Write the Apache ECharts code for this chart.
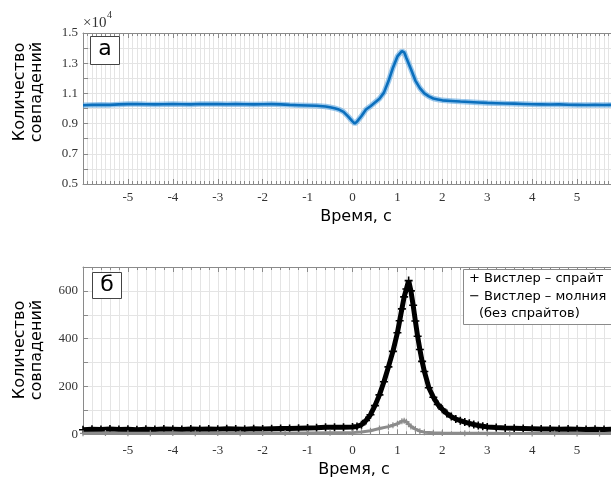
<!DOCTYPE html>
<html><head><meta charset="utf-8">
<script src="https://cdn.jsdelivr.net/npm/echarts@6/dist/echarts.min.js"></script>
<style>html,body{margin:0;padding:0;background:#fff}#c{width:611px;height:477px}</style>
</head><body><div id="c"></div>
<script>
// ---- data (top panel, units of 1e4) ----
const topTime = [-6.0,-5.8,-5.6,-5.4,-5.2,-5.0,-4.8,-4.6,-4.4,-4.2,-4.0,-3.8,-3.6,-3.4,-3.2,-3.0,-2.8,-2.6,-2.4,-2.2,-2.0,-1.8,-1.6,-1.4,-1.2,-1.0,-0.8,-0.6,-0.5,-0.4,-0.3,-0.2,-0.1,0.0,0.05,0.1,0.2,0.3,0.4,0.5,0.6,0.7,0.8,0.9,1.0,1.1,1.15,1.2,1.3,1.4,1.5,1.6,1.7,1.8,1.9,2.0,2.2,2.4,2.6,2.8,3.0,3.2,3.4,3.6,3.8,4.0,4.2,4.4,4.6,4.8,5.0,5.2,5.4,5.6,5.8,6.0];
const topCount = [1.022,1.024,1.025,1.024,1.027,1.029,1.030,1.028,1.027,1.028,1.029,1.028,1.027,1.030,1.029,1.030,1.028,1.029,1.028,1.027,1.028,1.029,1.027,1.024,1.022,1.020,1.018,1.013,1.008,1.002,0.993,0.978,0.948,0.915,0.900,0.913,0.950,0.993,1.015,1.040,1.065,1.105,1.180,1.270,1.345,1.380,1.372,1.335,1.262,1.185,1.135,1.100,1.080,1.066,1.060,1.054,1.050,1.046,1.043,1.040,1.037,1.035,1.033,1.032,1.030,1.028,1.027,1.026,1.027,1.025,1.024,1.023,1.024,1.023,1.024,1.023];

// ---- data (bottom panel) ----
const spriteTime = [-6.0,-5.8,-5.6,-5.4,-5.2,-5.0,-4.8,-4.6,-4.4,-4.2,-4.0,-3.8,-3.6,-3.4,-3.2,-3.0,-2.8,-2.6,-2.4,-2.2,-2.0,-1.8,-1.6,-1.4,-1.2,-1.0,-0.8,-0.6,-0.4,-0.2,0.0,0.1,0.2,0.3,0.4,0.5,0.6,0.7,0.8,0.9,1.0,1.05,1.1,1.15,1.2,1.25,1.3,1.35,1.4,1.45,1.5,1.55,1.6,1.7,1.8,1.9,2.0,2.1,2.2,2.3,2.4,2.5,2.6,2.7,2.8,2.9,3.0,3.2,3.4,3.6,3.8,4.0,4.2,4.4,4.6,4.8,5.0,5.2,5.4,5.6,5.8,6.0];
const spriteCount = [19,21,20,22,20,21,19,21,20,22,21,20,22,21,22,21,23,22,21,23,22,23,24,24,25,26,27,29,29,30,31,33,40,58,82,120,165,220,282,347,425,475,525,575,608,643,600,540,474,410,355,305,263,195,155,125,105,87,74,64,57,51,46,41,37,34,31,28,26,25,24,23,22,22,21,22,21,20,21,20,21,20];
const lightningTime = [-6.0,-5.5,-5.0,-4.5,-4.0,-3.5,-3.0,-2.5,-2.0,-1.5,-1.0,-0.5,0.0,0.2,0.4,0.6,0.8,0.9,1.0,1.1,1.15,1.2,1.25,1.3,1.4,1.5,1.6,1.8,2.0,2.5,3.0,3.5,4.0,4.5,5.0,5.5,6.0];
const lightningCount = [4,5,4,4,5,4,5,4,5,5,5,6,7,10,15,24,32,38,44,55,57,52,42,33,22,13,9,6,5,4,4,3,3,3,3,3,3];

const xTickLabels = ['-5','-4','-3','-2','-1','0','1','2','3','4','5'];
const yTopLabels = ['0.5','0.7','0.9','1.1','1.3','1.5'];
const yBottomLabels = ['0','200','400','600'];

const pairs = (xs, ys) => xs.map((x, i) => [x, ys[i]]);
const PLUS = 'path://M4,0H6V4H10V6H6V10H4V6H0V4H4Z';
const AX = '#8a8a8a', GRIDC = '#e4e4e4', LBL = '#333';
const tickFont = {fontFamily: 'Liberation Serif', fontSize: 13, color: LBL};
const isInt = v => Math.abs(v - Math.round(v)) < 1e-6;

function xAx(grid, split, pos) {
  const main = pos === 'bottom';
  return {
    type: 'value', gridIndex: grid, position: pos, min: -6, max: 6, interval: 1,
    axisLine: {show: true, onZero: false, lineStyle: {color: AX, width: 1}},
    axisTick: {show: true, inside: true, length: 5, lineStyle: {color: AX}},
    minorTick: {show: true, splitNumber: split, length: 3, lineStyle: {color: AX}},
    splitLine: {show: main, lineStyle: {color: GRIDC, width: 1}},
    minorSplitLine: {show: main, lineStyle: {color: GRIDC, width: 1}},
    axisLabel: {show: main, margin: grid === 0 ? 7 : 10, ...tickFont,
      formatter: v => { const s = String(Math.round(v)); return isInt(v) && xTickLabels.includes(s) ? s : ''; }}
  };
}
function yAx(grid, min, max, interval, labels, fmt) {
  return {type: 'value', gridIndex: grid, min: min, max: max, interval: interval,
    axisLine: {show: true, onZero: false, lineStyle: {color: AX}},
    axisTick: {show: true, inside: true, length: 5, lineStyle: {color: AX}},
    splitLine: {show: true, lineStyle: {color: GRIDC}},
    axisLabel: {margin: 5, ...tickFont, formatter: v => { const s = fmt(v); return labels.includes(s) ? s : ''; }}};
}

const chart = echarts.init(document.getElementById('c'), null, {renderer: 'canvas'});
chart.setOption({
  animation: false,
  grid: [
    {left: 83, width: 539, top: 33, height: 151, outerBoundsMode: 'none', containLabel: false},
    {left: 83, width: 539, top: 267, height: 167.3, outerBoundsMode: 'none', containLabel: false}
  ],
  xAxis: [xAx(0, 10, 'bottom'), xAx(0, 10, 'top'), xAx(1, 5, 'bottom'), xAx(1, 5, 'top')],
  yAxis: [
    yAx(0, 0.5, 1.5, 0.1, yTopLabels, v => v.toFixed(1)),
    yAx(1, 0, 700, 100, yBottomLabels, v => String(Math.round(v)))
  ],
  series: [
    {type: 'line', xAxisIndex: 0, yAxisIndex: 0, data: pairs(topTime, topCount), showSymbol: false,
      lineStyle: {color: 'rgba(90,165,225,0.6)', width: 5.5}, z: 3},
    {type: 'line', xAxisIndex: 0, yAxisIndex: 0, data: pairs(topTime, topCount), showSymbol: false,
      lineStyle: {color: '#0b6fbd', width: 2.6}, z: 4},
    {type: 'line', xAxisIndex: 2, yAxisIndex: 1, data: pairs(spriteTime, spriteCount),
      showSymbol: true, showAllSymbol: true, symbol: PLUS, symbolSize: 8,
      itemStyle: {color: '#000'}, lineStyle: {color: '#000', width: 5}, z: 3},
    {type: 'line', xAxisIndex: 2, yAxisIndex: 1, data: pairs(lightningTime, lightningCount),
      showSymbol: true, showAllSymbol: true, symbol: PLUS, symbolSize: 6,
      itemStyle: {color: '#8c8c8c'}, lineStyle: {color: '#8c8c8c', width: 3}, z: 4}
  ],
  graphic: [
    {type: 'text', x: 28, y: 92, rotation: Math.PI / 2,
      style: {text: 'Количество\nсовпадений', fontFamily: 'DejaVu Sans', fontSize: 16, lineHeight: 17, fill: '#000', align: 'center', verticalAlign: 'middle'}},
    {type: 'text', x: 28, y: 350, rotation: Math.PI / 2,
      style: {text: 'Количество\nсовпадений', fontFamily: 'DejaVu Sans', fontSize: 16, lineHeight: 17, fill: '#000', align: 'center', verticalAlign: 'middle'}},
    {type: 'text', x: 356, y: 217, style: {text: 'Время, с', fontFamily: 'DejaVu Sans', fontSize: 16, fill: '#000', align: 'center', verticalAlign: 'middle'}},
    {type: 'text', x: 354, y: 470, style: {text: 'Время, с', fontFamily: 'DejaVu Sans', fontSize: 16, fill: '#000', align: 'center', verticalAlign: 'middle'}},
    {type: 'text', x: 83, y: 23, style: {text: '×10', fontFamily: 'Liberation Serif', fontSize: 15, fill: LBL, align: 'left', verticalAlign: 'middle'}},
    {type: 'text', x: 107, y: 15, style: {text: '4', fontFamily: 'Liberation Serif', fontSize: 10, fill: LBL, align: 'left', verticalAlign: 'middle'}},
    {type: 'rect', shape: {x: 90.5, y: 36.5, width: 29, height: 28}, style: {fill: '#fff', stroke: '#444', lineWidth: 1}, z: 10},
    {type: 'text', x: 105, y: 49, z: 11, style: {text: 'а', fontFamily: 'DejaVu Sans', fontSize: 22, fill: '#000', align: 'center', verticalAlign: 'middle'}},
    {type: 'rect', shape: {x: 92.5, y: 272.5, width: 29, height: 26}, style: {fill: '#fff', stroke: '#444', lineWidth: 1}, z: 10},
    {type: 'text', x: 107, y: 285, z: 11, style: {text: 'б', fontFamily: 'DejaVu Sans', fontSize: 22, fill: '#000', align: 'center', verticalAlign: 'middle'}},
    {type: 'rect', shape: {x: 463.5, y: 269.5, width: 160, height: 55}, style: {fill: '#fff', stroke: '#8a8a8a', lineWidth: 1}, z: 10},
    {type: 'text', x: 469, y: 279, z: 11, style: {text: '+ Вистлер – спрайт', fontFamily: 'DejaVu Sans', fontSize: 13, fill: '#000', align: 'left', verticalAlign: 'middle'}},
    {type: 'text', x: 469, y: 297, z: 11, style: {text: '− Вистлер – молния', fontFamily: 'DejaVu Sans', fontSize: 13, fill: '#000', align: 'left', verticalAlign: 'middle'}},
    {type: 'text', x: 479, y: 314, z: 11, style: {text: '(без спрайтов)', fontFamily: 'DejaVu Sans', fontSize: 13, fill: '#000', align: 'left', verticalAlign: 'middle'}}
  ]
});
</script></body></html>
